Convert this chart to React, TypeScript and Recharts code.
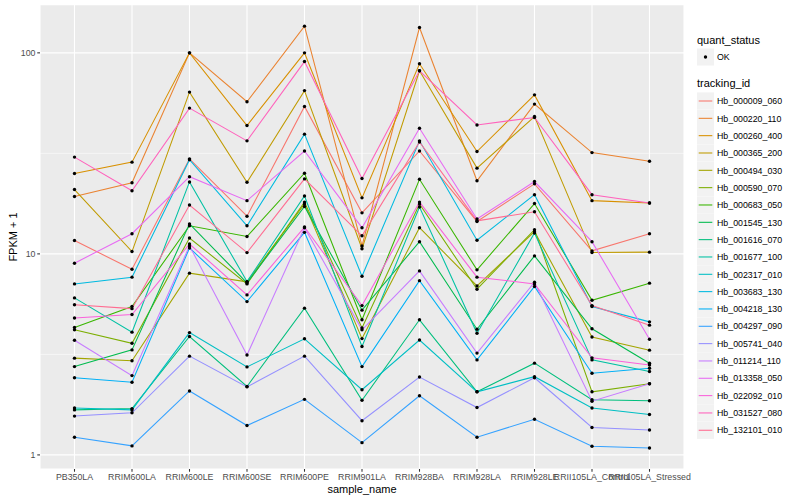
import React from "react";
import { LineChart, Line, XAxis, YAxis, CartesianGrid } from "recharts";

const categories = [
  "PB350LA", "RRIM600LA", "RRIM600LE", "RRIM600SE", "RRIM600PE", "RRIM901LA",
  "RRIM928BA", "RRIM928LA", "RRIM928LE", "RRII105LA_Control", "RRII105LA_Stressed",
];

const trackingIds = [
  "Hb_000009_060", "Hb_000220_110", "Hb_000260_400", "Hb_000365_200", "Hb_000494_030",
  "Hb_000590_070", "Hb_000683_050", "Hb_001545_130", "Hb_001616_070", "Hb_001677_100",
  "Hb_002317_010", "Hb_003683_130", "Hb_004218_130", "Hb_004297_090", "Hb_005741_040",
  "Hb_011214_110", "Hb_013358_050", "Hb_022092_010", "Hb_031527_080", "Hb_132101_010",
];

const colors = [
  "#F8766D", "#EA8331", "#D89000", "#C09B00", "#A3A500", "#7CAE00", "#39B600", "#00BB4E",
  "#00BF7D", "#00C1A3", "#00BFC4", "#00BAE0", "#00B0F6", "#35A2FF", "#9590FF", "#C77CFF",
  "#E76BF3", "#FA62DB", "#FF62BC", "#FF6C91",
];

// FPKM + 1 per sample, in category order
const hb_000009_060 = [11.65, 8.39, 29.7, 15.4, 54.1, 16.0, 32.5, 14.5, 22.3, 10.35, 12.6];
const hb_000220_110 = [19.3, 22.6, 100, 57.1, 135.8, 10.96, 133.6, 23.1, 55.6, 31.9, 28.9];
const hb_000260_400 = [25.1, 28.6, 100, 43.5, 100, 19.0, 88.2, 32.3, 61.8, 18.4, 17.9];
const hb_000365_200 = [20.9, 10.27, 63.8, 22.7, 64.9, 10.6, 81.4, 26.7, 48.2, 10.15, 10.2];
const hb_000494_030 = [3.03, 2.94, 8.02, 7.26, 17.7, 3.79, 13.5, 6.93, 12.9, 3.86, 3.32];
const hb_000590_070 = [4.19, 3.59, 12.0, 7.09, 18.1, 4.28, 17.7, 6.67, 13.2, 2.06, 2.26];
const hb_000683_050 = [4.3, 5.47, 13.8, 12.2, 25.2, 4.7, 23.5, 8.33, 17.8, 5.88, 7.15];
const hb_001545_130 = [2.75, 3.33, 14.1, 7.17, 17.2, 5.25, 11.5, 4.22, 9.77, 4.24, 2.86];
const hb_001616_070 = [1.675, 1.7, 3.88, 2.19, 5.37, 1.87, 4.7, 2.06, 2.86, 1.88, 1.86];
const hb_001677_100 = [6.04, 4.08, 22.8, 7.28, 19.4, 3.46, 17.1, 4.03, 12.7, 2.97, 2.6];
const hb_002317_010 = [1.71, 1.675, 4.06, 2.74, 3.78, 2.11, 3.73, 2.06, 2.45, 1.71, 1.59];
const hb_003683_130 = [7.09, 7.66, 29.4, 13.8, 39.4, 7.74, 36.5, 11.7, 19.7, 5.47, 4.59];
const hb_004218_130 = [2.42, 2.3, 10.7, 5.79, 12.8, 2.75, 7.36, 2.97, 6.88, 2.55, 2.7];
const hb_004297_090 = [1.225, 1.109, 2.08, 1.4, 1.89, 1.151, 1.97, 1.225, 1.505, 1.105, 1.083];
const hb_005741_040 = [1.56, 1.62, 3.1, 2.18, 3.1, 1.48, 2.44, 1.72, 2.42, 1.37, 1.33];
const hb_011214_110 = [3.72, 2.48, 10.96, 3.14, 13.5, 4.19, 8.23, 3.21, 7.23, 1.85, 2.26];
const hb_013358_050 = [8.99, 12.6, 24.2, 18.4, 32.5, 13.5, 42.2, 14.9, 22.9, 11.5, 3.76];
const hb_022092_010 = [4.8, 4.99, 11.2, 6.25, 13.6, 5.53, 18.1, 7.66, 7.09, 3.04, 2.8];
const hb_031527_080 = [30.3, 20.6, 53.1, 36.5, 90.5, 23.7, 81.4, 43.8, 47.7, 19.7, 17.9];
const hb_132101_010 = [5.58, 5.34, 17.5, 10.15, 23.6, 12.3, 36.0, 14.6, 16.2, 5.53, 4.42];

const seriesValues = [
  hb_000009_060, hb_000220_110, hb_000260_400, hb_000365_200, hb_000494_030,
  hb_000590_070, hb_000683_050, hb_001545_130, hb_001616_070, hb_001677_100,
  hb_002317_010, hb_003683_130, hb_004218_130, hb_004297_090, hb_005741_040,
  hb_011214_110, hb_013358_050, hb_022092_010, hb_031527_080, hb_132101_010,
];

const yTicks = [1, 3.1623, 10, 31.623, 100];
const yMajor = [1, 10, 100];
const yDomain = [0.851, 173];

const data = categories.map((c, i) => {
  const row: any = { sample_name: c };
  trackingIds.forEach((id, k) => {
    row[id] = seriesValues[k][i];
  });
  return row;
});

const FONT = "'Liberation Sans', Arial, Helvetica, sans-serif";

const W = 800;
const H = 500;
const PLOT_LEFT = 40;
const PLOT_TOP = 5;
const PLOT_RIGHT = 684;
const PLOT_BOTTOM = 469;

const YTick = (props: any) => {
  const { y, payload } = props;
  const v = payload.value;
  if (!yMajor.some((m) => Math.abs(m - v) < 1e-6)) return null;
  return (
    <g>
      <line x1={PLOT_LEFT - 2.75} x2={PLOT_LEFT} y1={y} y2={y} stroke="#333333" strokeWidth={1.07} />
      <text x={PLOT_LEFT - 4.5} y={y} dy={3.1} textAnchor="end" fontSize={8.8} fill="#4D4D4D" fontFamily={FONT}>
        {String(v)}
      </text>
    </g>
  );
};

const hLine = (p: any) => (
  <line
    key={p.key}
    x1={p.x1}
    x2={p.x2}
    y1={p.y1}
    y2={p.y2}
    stroke="#FFFFFF"
    strokeWidth={p.index % 2 === 1 ? 0.55 : 1.1}
  />
);

export default function App() {
  const legendRowY = (i: number) => 101 + i * 17.33;
  return (
    <div style={{ position: "absolute", left: 0, top: 0, width: W, height: H, background: "#FFFFFF" }}>
      <LineChart
        width={W}
        height={H}
        data={data}
        margin={{ top: PLOT_TOP, right: W - PLOT_RIGHT, bottom: 0, left: 5 }}
      >
        <CartesianGrid fill="#EBEBEB" stroke="#FFFFFF" strokeWidth={1.1} horizontal={hLine} />
        <XAxis
          dataKey="sample_name"
          height={H - PLOT_BOTTOM}
          padding={{ left: 34.5, right: 34.5 }}
          interval={0}
          axisLine={false}
          tickLine={{ stroke: "#333333", strokeWidth: 1.07 }}
          tickSize={2.75}
          tickMargin={2.5}
          tick={{ fontSize: 8.8, fill: "#4D4D4D", fontFamily: FONT }}
        />
        <YAxis
          width={PLOT_LEFT - 5}
          scale="log"
          type="number"
          domain={yDomain}
          allowDataOverflow
          ticks={yTicks}
          axisLine={false}
          tickLine={false}
          tick={<YTick />}
        />
        {trackingIds.map((id, k) => (
          <Line
            key={id}
            dataKey={id}
            type="linear"
            stroke={colors[k]}
            strokeWidth={1.07}
            dot={false}
            activeDot={false}
            isAnimationActive={false}
          />
        ))}
        {trackingIds.map((id) => (
          <Line
            key={id + "_pts"}
            dataKey={id}
            type="linear"
            stroke="none"
            strokeWidth={0}
            dot={{ r: 1.7, fill: "#000000", stroke: "none" }}
            activeDot={false}
            legendType="none"
            isAnimationActive={false}
          />
        ))}
      </LineChart>
      <svg
        width={W}
        height={H}
        style={{ position: "absolute", left: 0, top: 0, pointerEvents: "none" }}
        fontFamily={FONT}
      >
        <text x={(PLOT_LEFT + PLOT_RIGHT) / 2} y={492.5} textAnchor="middle" fontSize={11} fill="#000000">
          sample_name
        </text>
        <text
          x={0}
          y={0}
          transform={`translate(16.5, ${(PLOT_TOP + PLOT_BOTTOM) / 2}) rotate(-90)`}
          textAnchor="middle"
          fontSize={11}
          fill="#000000"
        >
          FPKM + 1
        </text>
        <text x={697} y={44} fontSize={11} fill="#000000">
          quant_status
        </text>
        <rect x={697} y={48.5} width={17} height={17} fill="#F2F2F2" />
        <circle cx={705.5} cy={57} r={1.7} fill="#000000" />
        <text x={717} y={60.2} fontSize={8.8} fill="#000000">
          OK
        </text>
        <text x={697} y={87} fontSize={11} fill="#000000">
          tracking_id
        </text>
        {trackingIds.map((id, k) => {
          const cy = legendRowY(k);
          return (
            <g key={id}>
              <rect x={697} y={cy - 8.6} width={17} height={17.2} fill="#F2F2F2" />
              <line x1={698.7} x2={712.3} y1={cy} y2={cy} stroke={colors[k]} strokeWidth={1.07} />
              <text x={717} y={cy + 3.2} fontSize={8.8} fill="#000000">
                {id}
              </text>
            </g>
          );
        })}
      </svg>
    </div>
  );
}
